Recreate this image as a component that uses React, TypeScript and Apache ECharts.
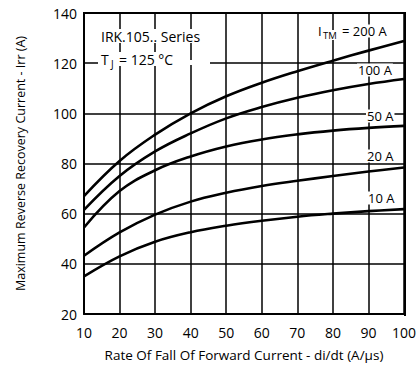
import React, { useEffect, useRef } from "react";
import * as echarts from "echarts";

const xValues = [10, 20, 30, 40, 50, 60, 70, 80, 90, 100];
const i200 = [67, 81, 91.5, 100, 106.8, 112.2, 116.8, 121, 125, 128.8];
const i100 = [61.5, 75, 84.8, 92, 98, 102.5, 106.2, 109.2, 111.7, 113.7];
const i50 = [54.5, 69, 77.3, 82.8, 86.8, 89.6, 91.6, 93.1, 94.2, 95];
const i20 = [43.2, 52.5, 59.6, 64.8, 68.3, 71, 73.1, 75, 76.8, 78.4];
const i10 = [35, 43, 48.8, 52.6, 55.2, 57.2, 58.8, 60, 61, 61.8];
const seriesNames = ["200 A", "100 A", "50 A", "20 A", "10 A"];

const FONT = "Open Sans";

export default function App() {
  const ref = useRef<HTMLDivElement>(null);
  useEffect(() => {
    if (!ref.current) return;
    const chart = echarts.init(ref.current, null, { renderer: "svg" });
    const all = [i200, i100, i50, i20, i10];
    const labelStyle = (text: string, x: number, y: number, size = 13) => ({
      type: "text",
      z: 100,
      style: {
        text,
        x,
        y,
        font: `${size}px "${FONT}"`,
        fill: "#000",
        backgroundColor: "#fff",
        padding: [0, 1, 0, 1],
        verticalAlign: "middle",
        align: "left",
      },
    });
    chart.setOption({
      animation: false,
      backgroundColor: "#fff",
      textStyle: { fontFamily: FONT },
      grid: { left: 84, right: 15, top: 13, bottom: 58, containLabel: false },
      xAxis: {
        type: "value",
        min: 10,
        max: 100,
        interval: 10,
        name: "Rate Of Fall Of Forward Current - di/dt (A/μs)",
        nameLocation: "middle",
        nameGap: 34,
        nameTextStyle: { fontSize: 13.5, color: "#000", fontFamily: FONT },
        axisLine: { lineStyle: { color: "#000", width: 2 } },
        axisTick: { show: false },
        axisLabel: { color: "#000", fontSize: 14, margin: 11, fontFamily: FONT },
        splitLine: { show: true, lineStyle: { color: "#000", width: 1.5 } },
      },
      yAxis: {
        type: "value",
        min: 20,
        max: 140,
        interval: 20,
        name: "Maximum Reverse Recovery Current - Irr (A)",
        nameLocation: "middle",
        nameGap: 57,
        nameRotate: 90,
        nameTextStyle: { fontSize: 12.5, color: "#000", fontFamily: FONT },
        axisLine: { show: true, lineStyle: { color: "#000", width: 2 } },
        axisTick: { show: false },
        axisLabel: { color: "#000", fontSize: 14, margin: 7, fontFamily: FONT },
        splitLine: { show: true, lineStyle: { color: "#000", width: 1.5 } },
      },
      series: all.map((vals, k) => ({
        name: seriesNames[k],
        type: "line",
        smooth: 0.4,
        symbol: "none",
        data: xValues.map((x, i) => [x, vals[i]]),
        lineStyle: { color: "#000", width: 2.6 },
        z: 5,
      })),
      graphic: [
        {
          type: "rect",
          z: 90,
          shape: { x: 404, y: 12, width: 2, height: 304 },
          style: { fill: "#000" },
        },
        {
          type: "rect",
          z: 90,
          shape: { x: 83, y: 12, width: 323, height: 2 },
          style: { fill: "#000" },
        },
        {
          type: "rect",
          z: 95,
          shape: { x: 98, y: 60, width: 112, height: 5 },
          style: { fill: "#fff" },
        },
        labelStyle("IRK.105.. Series", 100, 36, 14),
        labelStyle("T", 100, 59, 14),
        labelStyle("J", 110, 64, 10),
        labelStyle("= 125 °C", 118, 59, 14),
        labelStyle("I", 317, 31, 13),
        labelStyle("TM", 322, 35, 9.5),
        labelStyle("= 200 A", 341, 31, 13),
        labelStyle("100 A", 357, 70, 13),
        labelStyle("50 A", 366, 116, 13),
        labelStyle("20 A", 366, 156, 13),
        labelStyle("10 A", 367, 198, 13),
      ],
    });
    return () => chart.dispose();
  }, []);
  return (
    <div
      ref={ref}
      style={{ position: "fixed", left: 0, top: 0, width: 419, height: 372 }}
    />
  );
}
